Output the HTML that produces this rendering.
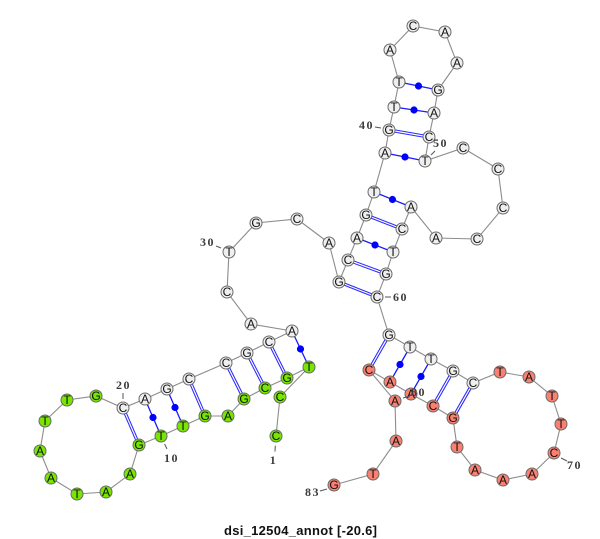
<!DOCTYPE html>
<html>
<head>
<meta charset="utf-8">
<style>
html,body{margin:0;padding:0;background:#fff;width:600px;height:539px;overflow:hidden}
svg{display:block}
.bb{fill:none;stroke:#8c8c8c;stroke-width:1.1}
.p{stroke:#1a1aff;stroke-width:1.3}
.d1{stroke:#2a2aff;stroke-width:3.3}
.d2{stroke:#fff;stroke-width:1.2}
.dot{fill:#0000ff;stroke:none}
.w circle{fill:#efefef}
.g circle{fill:#78e600}
.r circle{fill:#fa8072}
.w circle,.g circle,.r circle{stroke:#6a6a6a;stroke-width:1}
.t text{font:12px "Liberation Sans",sans-serif;fill:#111;text-anchor:middle}
.lab text{font:bold 12px "Liberation Serif",serif;fill:#3c3c3c;text-anchor:middle;letter-spacing:1.5px}
.tick{stroke:#555;stroke-width:1}
</style>
</head>
<body>
<svg width="600" height="539" viewBox="0 0 600 539" xmlns="http://www.w3.org/2000/svg">
<polyline class="bb" points="276,436 280,397 309,367 287,378 265,388 244,399 228,416 205,416 183,426 161,436 139,445 130,474 106,492 77,494 51,478 40,451 45,421 67,400 96,396 123,408 145,399 167,389 189,379 226,363 247,353 269,342 292,331 251,324 227,292 229,252 256,223 297,219 329,243 339,282 348,260 357,238 366,215 374,192 385,153 389,130 394,107 399,82 390,50 413,26 445,32 457,63 438,90 434,113 429,137 425,161 463,148 498,169 503,208 477,239 436,238 411,207 402,229 393,252 386,274 377,297 389,335 410,347 431,359 453,371 473,383 500,372 529,377 552,396 561,424 554,453 532,474 503,480 475,470 457,447 453,418 433,406 411,394 390,382 369,370 395,401 396,441 373,474 334,485"/>

<g class="d1">
<line x1="287" y1="378" x2="269" y2="342"/><line x1="265" y1="388" x2="247" y2="353"/><line x1="244" y1="399" x2="226" y2="363"/><line x1="205" y1="416" x2="189" y2="379"/><line x1="139" y1="445" x2="123" y2="408"/><line x1="339" y1="282" x2="377" y2="297"/><line x1="348" y1="260" x2="386" y2="274"/><line x1="366" y1="215" x2="402" y2="229"/><line x1="389" y1="130" x2="429" y2="137"/><line x1="389" y1="335" x2="369" y2="370"/><line x1="453" y1="371" x2="433" y2="406"/><line x1="473" y1="383" x2="453" y2="418"/>
</g>
<g class="d2">
<line x1="287" y1="378" x2="269" y2="342"/><line x1="265" y1="388" x2="247" y2="353"/><line x1="244" y1="399" x2="226" y2="363"/><line x1="205" y1="416" x2="189" y2="379"/><line x1="139" y1="445" x2="123" y2="408"/><line x1="339" y1="282" x2="377" y2="297"/><line x1="348" y1="260" x2="386" y2="274"/><line x1="366" y1="215" x2="402" y2="229"/><line x1="389" y1="130" x2="429" y2="137"/><line x1="389" y1="335" x2="369" y2="370"/><line x1="453" y1="371" x2="433" y2="406"/><line x1="473" y1="383" x2="453" y2="418"/>
</g>
<g class="p">
<line x1="309" y1="367" x2="292" y2="331"/><line x1="183" y1="426" x2="167" y2="389"/><line x1="161" y1="436" x2="145" y2="399"/><line x1="357" y1="238" x2="393" y2="252"/><line x1="374" y1="192" x2="411" y2="207"/><line x1="385" y1="153" x2="425" y2="161"/><line x1="394" y1="107" x2="434" y2="113"/><line x1="399" y1="82" x2="438" y2="90"/><line x1="410" y1="347" x2="390" y2="382"/><line x1="431" y1="359" x2="411" y2="394"/>
</g>
<g class="dot">
<circle cx="300.5" cy="349" r="3.6"/><circle cx="175" cy="407.5" r="3.6"/><circle cx="153" cy="417.5" r="3.6"/><circle cx="375" cy="245" r="3.6"/><circle cx="392.5" cy="199.5" r="3.6"/><circle cx="405" cy="157" r="3.6"/><circle cx="414" cy="110" r="3.6"/><circle cx="418.5" cy="86" r="3.6"/><circle cx="400" cy="364.5" r="3.6"/><circle cx="421" cy="376.5" r="3.6"/>
</g>

<g class="g">
<circle cx="276" cy="436" r="6"/><circle cx="280" cy="397" r="6"/><circle cx="309" cy="367" r="6"/><circle cx="287" cy="378" r="6"/><circle cx="265" cy="388" r="6"/><circle cx="244" cy="399" r="6"/><circle cx="228" cy="416" r="6"/><circle cx="205" cy="416" r="6"/><circle cx="183" cy="426" r="6"/><circle cx="161" cy="436" r="6"/><circle cx="139" cy="445" r="6"/><circle cx="130" cy="474" r="6"/><circle cx="106" cy="492" r="6"/><circle cx="77" cy="494" r="6"/><circle cx="51" cy="478" r="6"/><circle cx="40" cy="451" r="6"/><circle cx="45" cy="421" r="6"/><circle cx="67" cy="400" r="6"/><circle cx="96" cy="396" r="6"/>
</g>
<g class="w">
<circle cx="123" cy="408" r="6"/><circle cx="145" cy="399" r="6"/><circle cx="167" cy="389" r="6"/><circle cx="189" cy="379" r="6"/><circle cx="226" cy="363" r="6"/><circle cx="247" cy="353" r="6"/><circle cx="269" cy="342" r="6"/><circle cx="292" cy="331" r="6"/><circle cx="251" cy="324" r="6"/><circle cx="227" cy="292" r="6"/><circle cx="229" cy="252" r="6"/><circle cx="256" cy="223" r="6"/><circle cx="297" cy="219" r="6"/><circle cx="329" cy="243" r="6"/><circle cx="339" cy="282" r="6"/><circle cx="348" cy="260" r="6"/><circle cx="357" cy="238" r="6"/><circle cx="366" cy="215" r="6"/><circle cx="374" cy="192" r="6"/><circle cx="385" cy="153" r="6"/><circle cx="389" cy="130" r="6"/><circle cx="394" cy="107" r="6"/><circle cx="399" cy="82" r="6"/><circle cx="390" cy="50" r="6"/><circle cx="413" cy="26" r="6"/><circle cx="445" cy="32" r="6"/><circle cx="457" cy="63" r="6"/><circle cx="438" cy="90" r="6"/><circle cx="434" cy="113" r="6"/><circle cx="429" cy="137" r="6"/><circle cx="425" cy="161" r="6"/><circle cx="463" cy="148" r="6"/><circle cx="498" cy="169" r="6"/><circle cx="503" cy="208" r="6"/><circle cx="477" cy="239" r="6"/><circle cx="436" cy="238" r="6"/><circle cx="411" cy="207" r="6"/><circle cx="402" cy="229" r="6"/><circle cx="393" cy="252" r="6"/><circle cx="386" cy="274" r="6"/><circle cx="377" cy="297" r="6"/><circle cx="389" cy="335" r="6"/><circle cx="410" cy="347" r="6"/><circle cx="431" cy="359" r="6"/><circle cx="453" cy="371" r="6"/><circle cx="473" cy="383" r="6"/>
</g>
<g class="r">
<circle cx="500" cy="372" r="6"/><circle cx="529" cy="377" r="6"/><circle cx="552" cy="396" r="6"/><circle cx="561" cy="424" r="6"/><circle cx="554" cy="453" r="6"/><circle cx="532" cy="474" r="6"/><circle cx="503" cy="480" r="6"/><circle cx="475" cy="470" r="6"/><circle cx="457" cy="447" r="6"/><circle cx="453" cy="418" r="6"/><circle cx="433" cy="406" r="6"/><circle cx="411" cy="394" r="6"/><circle cx="390" cy="382" r="6"/><circle cx="369" cy="370" r="6"/><circle cx="395" cy="401" r="6"/><circle cx="396" cy="441" r="6"/><circle cx="373" cy="474" r="6"/><circle cx="334" cy="485" r="6"/>
</g>

<g class="t">
<text x="276" y="440">C</text><text x="280" y="401">C</text><text x="309" y="371">T</text><text x="287" y="382">G</text><text x="265" y="392">C</text><text x="244" y="403">G</text><text x="228" y="420">A</text><text x="205" y="420">G</text><text x="183" y="430">T</text><text x="161" y="440">T</text><text x="139" y="449">G</text><text x="130" y="478">A</text><text x="106" y="496">A</text><text x="77" y="498">T</text><text x="51" y="482">A</text><text x="40" y="455">A</text><text x="45" y="425">T</text><text x="67" y="404">T</text><text x="96" y="400">G</text><text x="123" y="412">C</text><text x="145" y="403">A</text><text x="167" y="393">G</text><text x="189" y="383">C</text><text x="226" y="367">C</text><text x="247" y="357">G</text><text x="269" y="346">C</text><text x="292" y="335">A</text><text x="251" y="328">A</text><text x="227" y="296">C</text><text x="229" y="256">T</text><text x="256" y="227">G</text><text x="297" y="223">C</text><text x="329" y="247">A</text><text x="339" y="286">G</text><text x="348" y="264">C</text><text x="357" y="242">A</text><text x="366" y="219">G</text><text x="374" y="196">T</text><text x="385" y="157">A</text><text x="389" y="134">G</text><text x="394" y="111">T</text><text x="399" y="86">T</text><text x="390" y="54">A</text><text x="413" y="30">C</text><text x="445" y="36">A</text><text x="457" y="67">A</text><text x="438" y="94">G</text><text x="434" y="117">A</text><text x="429" y="141">C</text><text x="425" y="165">T</text><text x="463" y="152">C</text><text x="498" y="173">C</text><text x="503" y="212">C</text><text x="477" y="243">C</text><text x="436" y="242">A</text><text x="411" y="211">A</text><text x="402" y="233">C</text><text x="393" y="256">T</text><text x="386" y="278">G</text><text x="377" y="301">C</text><text x="389" y="339">G</text><text x="410" y="351">T</text><text x="431" y="363">T</text><text x="453" y="375">G</text><text x="473" y="387">C</text><text x="500" y="376">T</text><text x="529" y="381">A</text><text x="552" y="400">T</text><text x="561" y="428">T</text><text x="554" y="457">C</text><text x="532" y="478">A</text><text x="503" y="484">A</text><text x="475" y="474">A</text><text x="457" y="451">T</text><text x="453" y="422">G</text><text x="433" y="410">C</text><text x="411" y="398">A</text><text x="390" y="386">A</text><text x="369" y="374">C</text><text x="395" y="405">A</text><text x="396" y="445">A</text><text x="373" y="478">T</text><text x="334" y="489">G</text>
</g>

<g class="tick">
<line x1="275.3" y1="445.6" x2="275" y2="451.6"/><line x1="164.6" y1="444" x2="167" y2="449"/><line x1="123" y1="393" x2="123" y2="399"/><line x1="216" y1="246" x2="221" y2="248"/><line x1="375" y1="127" x2="381" y2="128"/><line x1="431" y1="155" x2="435" y2="151"/><line x1="385" y1="297" x2="391" y2="297"/><line x1="561" y1="458" x2="567" y2="461"/><line x1="403" y1="398" x2="410" y2="396"/><line x1="320" y1="491" x2="327" y2="489"/>
</g>
<g class="lab">
<text x="273.5" y="464">1</text><text x="171.5" y="462">10</text><text x="123.5" y="389">20</text><text x="207.5" y="246">30</text><text x="366.5" y="129">40</text><text x="440.5" y="147">50</text><text x="400.5" y="301">60</text><text x="574.5" y="469">70</text><text x="418.5" y="396">80</text><text x="312.5" y="496">83</text>
</g>
<text x="224" y="535" font-family="'Liberation Sans',sans-serif" font-size="13" font-weight="bold" fill="#111" textLength="153" lengthAdjust="spacing">dsi_12504_annot [-20.6]</text>
</svg>
</body>
</html>
